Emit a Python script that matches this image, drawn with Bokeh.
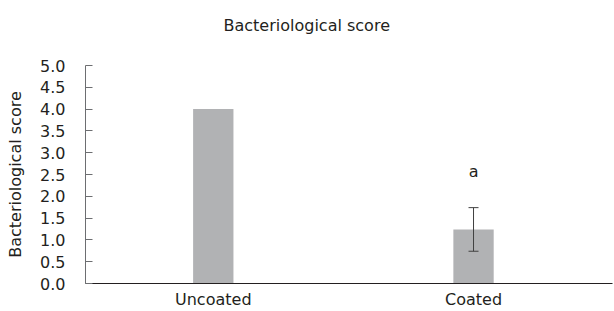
from bokeh.plotting import figure
from bokeh.models import ColumnDataSource, FixedTicker, Whisker, TeeHead, Range1d, Title
from bokeh.core.properties import value
from bokeh.embed import file_html
from bokeh.resources import INLINE

categories = ["Uncoated", "Coated"]
scores = [4.0, 1.24]
errors = [0.0, 0.5]
sig_labels = ["", "a"]
y_ticks = [0.0, 0.5, 1.0, 1.5, 2.0, 2.5, 3.0, 3.5, 4.0, 4.5, 5.0]
title_text = "Bacteriological score"

FONT = "DejaVu Sans"
TXT = "#231f20"

xs = list(range(1, len(categories) + 1))
src = ColumnDataSource(dict(
    x=xs, top=scores,
    upper=[s + e for s, e in zip(scores, errors)],
    lower=[s - e for s, e in zip(scores, errors)],
    lab=sig_labels,
))
err_src = ColumnDataSource(dict(
    x=[x for x, e in zip(xs, errors) if e > 0],
    upper=[s + e for s, e in zip(scores, errors) if e > 0],
    lower=[s - e for s, e in zip(scores, errors) if e > 0],
))

p = figure(width=614, height=311, output_backend="svg", toolbar_location=None,
           x_range=Range1d(0.509, 2.534), y_range=Range1d(0, 5),
           min_border_left=85, min_border_right=2, min_border_top=65, min_border_bottom=28)
p.outline_line_color = None
p.grid.grid_line_color = None
p.background_fill_color = "white"

p.vbar(x="x", top="top", width=0.155, bottom=0, source=src,
       fill_color="#b1b2b4", line_color=None)

w = Whisker(base="x", upper="upper", lower="lower", source=err_src,
            line_color="#404040", line_width=1, level="overlay",
            upper_head=TeeHead(size=10, line_color="#404040", line_width=1),
            lower_head=TeeHead(size=10, line_color="#404040", line_width=1))
p.add_layout(w)

p.text(x="x", y="upper", text="lab", source=src, text_font=value(FONT),
       text_font_size="16px", text_color=TXT, text_align="center",
       text_baseline="bottom", y_offset=-27)

# spacer between frame and title, then the title itself (outermost)
p.add_layout(Title(text=" ", text_font_size="1px", standoff=13), "above")
p.add_layout(Title(text=title_text, text_font=FONT, text_font_size="16px",
                   text_font_style="normal", text_color=TXT, align="left", offset=138,
                   vertical_align="middle", standoff=28), "above")

xa = p.xaxis[0]
xa.ticker = FixedTicker(ticks=xs)
xa.major_label_overrides = {x: c for x, c in zip(xs, categories)}
xa.major_tick_line_color = None
xa.minor_tick_line_color = None
xa.axis_line_color = "#231f20"
xa.major_label_text_font = FONT
xa.major_label_text_font_size = "16px"
xa.major_label_text_color = TXT
xa.major_label_standoff = 0

ya = p.yaxis[0]
ya.ticker = FixedTicker(ticks=y_ticks)
ya.major_label_overrides = {t: f"{t:.1f}" for t in y_ticks}
ya.axis_line_color = "#6d6e71"
ya.major_tick_line_color = "#6d6e71"
ya.major_tick_in = 7
ya.major_tick_out = 0
ya.minor_tick_line_color = None
ya.major_label_text_font = FONT
ya.major_label_text_font_size = "16px"
ya.major_label_text_color = TXT
ya.major_label_standoff = 20
ya.axis_label = "Bacteriological score"
ya.axis_label_text_font = FONT
ya.axis_label_text_font_size = "16px"
ya.axis_label_text_font_style = "normal"
ya.axis_label_text_color = TXT
ya.axis_label_standoff = 12

open("out.html", "w").write(file_html(p, INLINE))
